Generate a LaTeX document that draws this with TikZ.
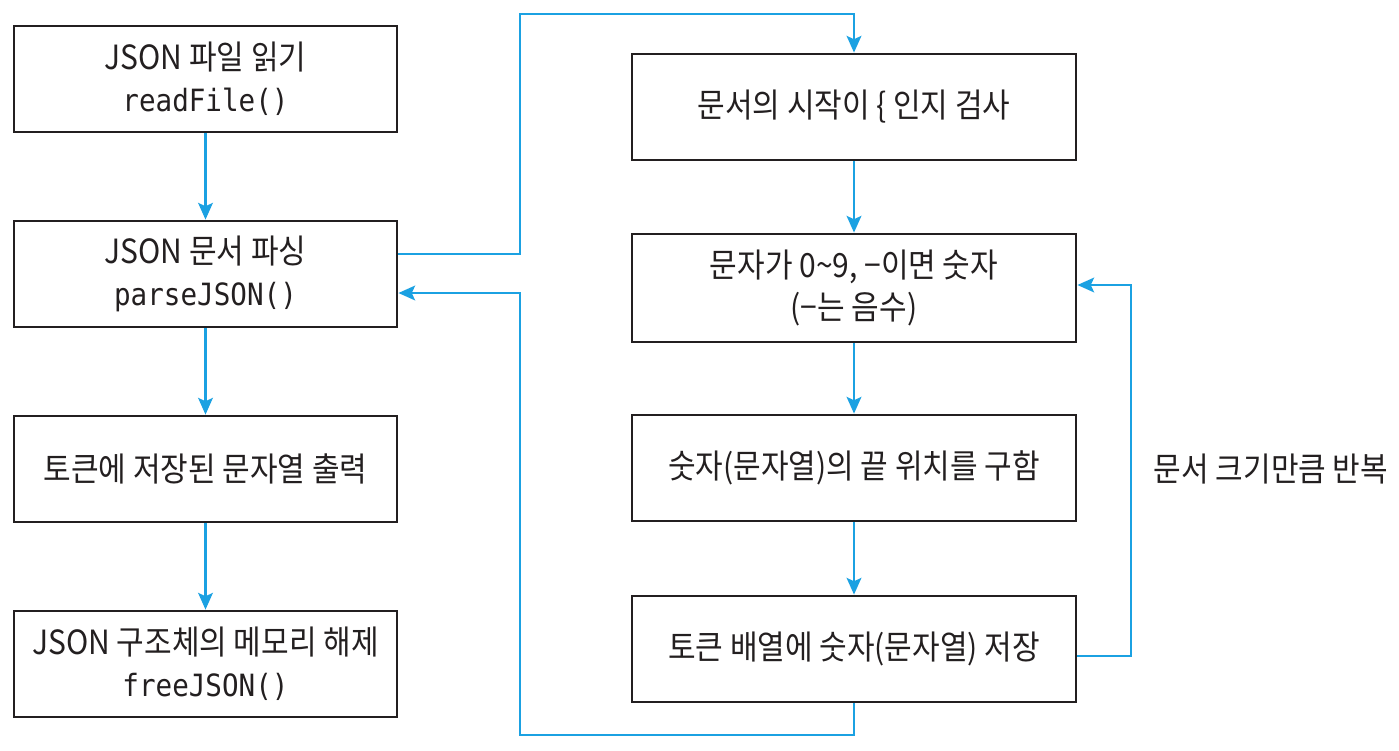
\documentclass[tikz,border=0pt]{standalone}
\usepackage{fontspec}
\setmainfont{Noto Sans CJK KR}[FakeStretch=0.9]
\setmonofont{DejaVu Sans Mono}[FakeStretch=0.9]
\usetikzlibrary{calc,arrows.meta}
\definecolor{boxline}{HTML}{231F20}
\definecolor{flow}{HTML}{1BA1E2}
\newcommand{\codefont}{\ttfamily\fontsize{23pt}{31.5pt}\selectfont}
\begin{document}
\begin{tikzpicture}[x=0.75pt,y=-0.75pt,
  box/.style={draw=boxline,line width=2.1pt,rectangle,align=center,inner sep=0pt,
    font=\fontsize{25pt}{31.5pt}\selectfont,text=boxline},
  lbox/.style={box,minimum width=287.25pt,minimum height=79.5pt},
  rbox/.style={box,minimum width=333pt,minimum height=79.5pt},
  arr/.style={draw=flow,line width=1.8pt,-{Stealth[length=12.5pt,width=11pt,inset=2.5pt]}}]
\useasboundingbox (0,0) rectangle (1399,750);
\node[lbox] (b1) at (205.5,79) {JSON 파일 읽기\\{\codefont readFile()}};
\node[lbox] (b2) at (205.5,274) {JSON 문서 파싱\\{\codefont parseJSON()}};
\node[lbox] (b3) at (205.5,469) {토큰에 저장된 문자열 출력};
\node[lbox] (b4) at (205.5,664) {JSON 구조체의 메모리 해제\\{\codefont freeJSON()}};
\node[rbox] (r1) at (854,107) {문서의 시작이 \{ 인지 검사};
\node[rbox,minimum height=81pt] (r2) at (854,288) {문자가 0\textasciitilde9, −이면 숫자\\(−는 음수)};
\node[rbox] (r3) at (854,468) {숫자(문자열)의 끝 위치를 구함};
\node[rbox] (r4) at (854,649) {토큰 배열에 숫자(문자열) 저장};
\node[font=\fontsize{25pt}{30pt}\selectfont,text=boxline] (lab) at (1271,469) {문서 크기만큼 반복};
\coordinate (c1) at (520,14);
\coordinate (c3) at (520,735);
\coordinate (c5) at (1131,469);
\draw[arr] (b1) -- (b2);
\draw[arr] (b2) -- (b3);
\draw[arr] (b3) -- (b4);
\draw[arr] (r1) -- (r2);
\draw[arr] (r2) -- (r3);
\draw[arr] (r3) -- (r4);
\draw[arr] ($(b2.east)+(0,-20)$) -| (c1) -| (r1.north);
\draw[arr] (r4.south) |- (c3) |- ($(b2.east)+(0,19)$);
\draw[arr] ($(r4.east)+(0,7)$) -| (c5) |- ($(r2.east)+(0,-3)$);
\end{tikzpicture}
\end{document}
